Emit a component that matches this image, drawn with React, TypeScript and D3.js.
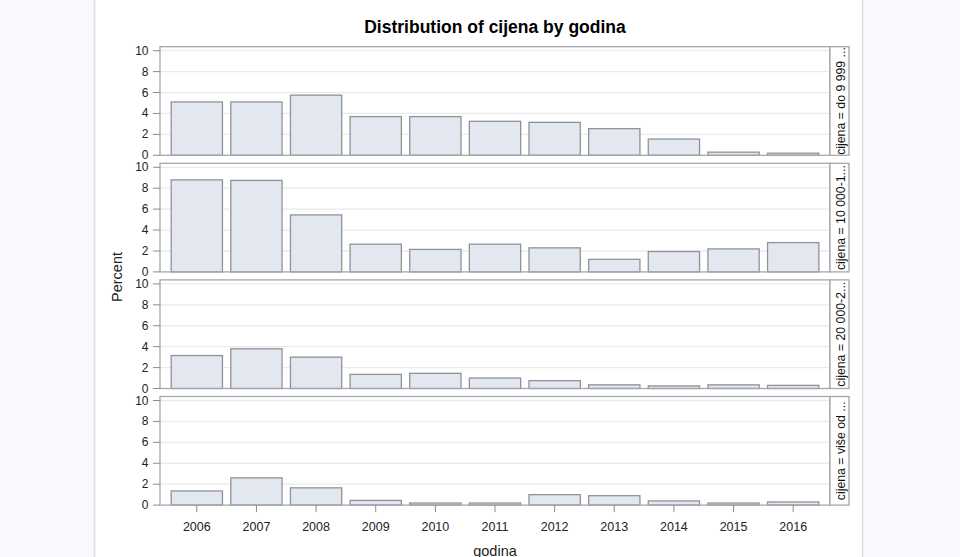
import React from "react";
import * as d3 from "d3";

const years = ["2006", "2007", "2008", "2009", "2010", "2011", "2012", "2013", "2014", "2015", "2016"];
const stripLabels = ["cijena = do 9 999 ...", "cijena = 10 000-1...", "cijena = 20 000-2...", "cijena = više od ..."];
const pctDo9999 = [5.1, 5.1, 5.75, 3.7, 3.7, 3.25, 3.15, 2.55, 1.55, 0.3, 0.2];
const pct10000 = [8.8, 8.75, 5.45, 2.65, 2.15, 2.65, 2.3, 1.2, 1.95, 2.2, 2.8];
const pct20000 = [3.15, 3.8, 3.0, 1.35, 1.45, 1.0, 0.75, 0.35, 0.25, 0.35, 0.3];
const pctVise = [1.35, 2.6, 1.65, 0.45, 0.2, 0.2, 1.0, 0.9, 0.4, 0.2, 0.3];
const yTicks = [0, 2, 4, 6, 8, 10];
const title = "Distribution of cijena by godina";
const xLabel = "godina";
const yLabel = "Percent";

const panels = [pctDo9999, pct10000, pct20000, pctVise];

const W = 960;
const H = 557;
const plotL = 160;
const plotR = 830;
const stripR = 849;
const firstTop = 46.7;
const pitch = 116.6;
const panelH = 108.6;
const font = "'Liberation Sans', Arial, sans-serif";

export default function App() {
  const x = d3.scaleBand<string>().domain(years).range([plotL, plotR]).paddingInner(0.14).paddingOuter(0.187);
  const lastBottom = firstTop + 3 * pitch + panelH;
  return (
    <svg width={W} height={H} style={{ position: "absolute", left: 0, top: 0, background: "#fff" }} fontFamily={font}>
      <rect x={0} y={0} width={94} height={H} fill="#f7f9fd" />
      <rect x={863} y={0} width={W - 863} height={H} fill="#f7f9fd" />
      <line x1={94.5} x2={94.5} y1={0} y2={H} stroke="#dadcdf" strokeWidth={1.5} />
      <line x1={862.5} x2={862.5} y1={0} y2={H} stroke="#dadcdf" strokeWidth={1.5} />
      <text x={(plotL + plotR) / 2} y={33} textAnchor="middle" fontWeight="bold" fontSize={17.5} fill="#000">
        {title}
      </text>
      {panels.map((vals, pi) => {
        const top = firstTop + pi * pitch;
        const bottom = top + panelH;
        const y = d3.scaleLinear().domain([0, 10]).range([bottom, top + 4]);
        const midY = (top + bottom) / 2;
        return (
          <g key={pi}>
            <rect x={plotL} y={top} width={plotR - plotL} height={panelH} fill="#fff" />
            {yTicks.filter((t) => t > 0).map((t) => (
              <line key={t} x1={plotL} x2={plotR} y1={y(t)} y2={y(t)} stroke="#e9eaec" strokeWidth={1.3} />
            ))}
            {vals.map((v, i) => (
              <rect
                key={i}
                x={x(years[i])!}
                y={y(v)}
                width={x.bandwidth()}
                height={bottom - y(v)}
                fill="#e2e7f0"
                stroke="#8f9398"
                strokeWidth={1.3}
              />
            ))}
            <rect x={plotL} y={top} width={plotR - plotL} height={panelH} fill="none" stroke="#a4a8ac" strokeWidth={1.3} />
            <rect x={plotR} y={top} width={stripR - plotR} height={panelH} fill="#fff" stroke="#a4a8ac" strokeWidth={1.3} />
            <text
              transform={`translate(${(plotR + stripR) / 2 + 1},${midY}) rotate(-90)`}
              textAnchor="middle"
              dominantBaseline="central"
              fontSize={12.3}
              fill="#111"
            >
              {stripLabels[pi]}
            </text>
            {yTicks.map((t) => (
              <g key={t}>
                <line x1={plotL - 7} x2={plotL} y1={y(t)} y2={y(t)} stroke="#8c8c8c" strokeWidth={1} />
                <text x={148.5} y={y(t)} textAnchor="end" dominantBaseline="central" fontSize={12} fill="#222">
                  {t}
                </text>
              </g>
            ))}
          </g>
        );
      })}
      {years.map((yr) => {
        const cx = x(yr)! + x.bandwidth() / 2;
        return (
          <g key={yr}>
            <line x1={cx} x2={cx} y1={lastBottom} y2={lastBottom + 7} stroke="#8c8c8c" strokeWidth={1} />
            <text x={cx} y={530.5} textAnchor="middle" fontSize={12.5} fill="#222">
              {yr}
            </text>
          </g>
        );
      })}
      <text x={(plotL + plotR) / 2} y={555.5} textAnchor="middle" fontSize={14.5} fill="#222">
        {xLabel}
      </text>
      <text transform={`translate(122,277) rotate(-90)`} textAnchor="middle" fontSize={14.5} fill="#222">
        {yLabel}
      </text>
    </svg>
  );
}
